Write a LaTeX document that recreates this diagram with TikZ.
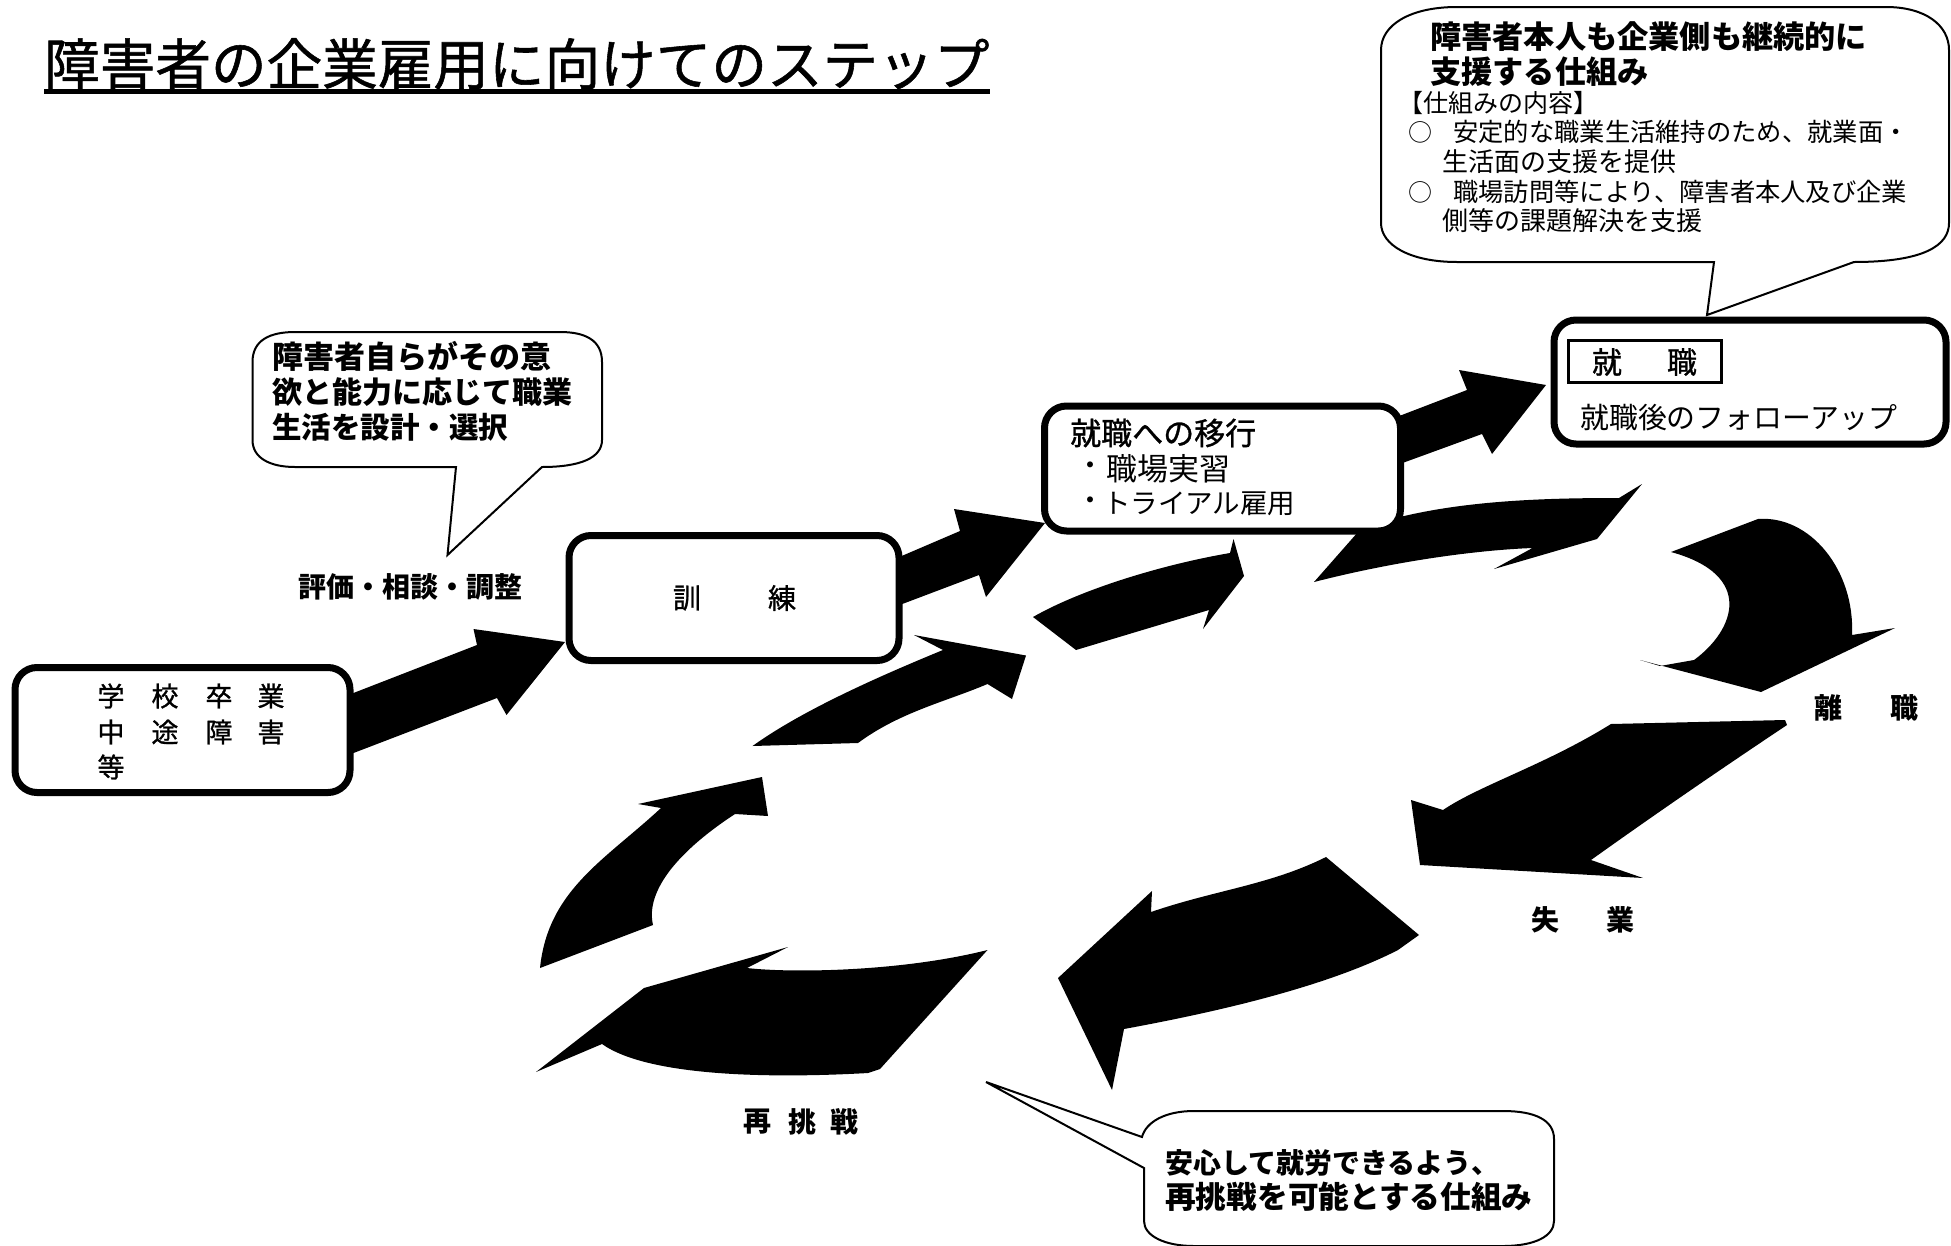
\documentclass[tikz,border=0pt]{standalone}
\usepackage{fontspec}
\setmainfont{Noto Sans CJK JP}
\newfontfamily\medfont[FakeBold=1]{Noto Sans CJK JP}
\newcommand{\fs}[1]{\fontsize{#1pt}{#1pt}\selectfont}
\tikzset{
  x=1pt,y=-1pt,
  stepbox/.style={draw=black,fill=white,line width=7pt,rounded corners=22pt,rectangle,inner sep=0pt},
  labelbox/.style={draw=black,fill=white,line width=3pt,rectangle,inner sep=0pt},
  blockarrow/.style={fill=black,draw=none},
  callout/.style={draw=black,fill=white,line width=2pt,line join=miter},
  tl/.style={inner sep=0pt,anchor=west,text=black},
  tc/.style={inner sep=0pt,anchor=center,text=black},
}
\begin{document}
\begin{tikzpicture}
\useasboundingbox (0,0) rectangle (1951,1245);
\fill[white] (0,0) rectangle (1951,1245);

% title
\node[tl,font=\fs{55.6}\medfont] (title) at (44,64) {障害者の企業雇用に向けてのステップ};
\coordinate (ulL) at (44,91); \coordinate (ulR) at (990,91);
\draw[line width=5pt] (ulL) -- (ulR);

% block arrows
\fill[blockarrow] (347,695.5)--(477,645)--(473.5,629)--(565,642)--(506.5,715)--(497,698)--(347,755.5)--cycle;
\fill[blockarrow] (897,558)--(960,531)--(954,509)--(1045,523)--(986,597)--(979,575)--(897,606)--cycle;
\fill[blockarrow] (1394,418)--(1467,390)--(1459,370)--(1546,385)--(1492,454)--(1482,434)--(1397,465)--cycle;
\fill[blockarrow] (752.5,746) .. controls (800,712) and (870,680) .. (943,650) -- (914,635) -- (1026,655.5) -- (1012,699) -- (987.5,684) .. controls (945,702) and (900,712) .. (858,743) -- cycle;
\fill[blockarrow] (1033,617) .. controls (1080,590) and (1160,565) .. (1230,553) -- (1233.5,539) -- (1244,576) -- (1203,629) -- (1209,610) -- (1076,650) -- cycle;
\fill[blockarrow] (1314,582) -- (1358,532) -- (1400,517) .. controls (1470,500) and (1550,498) .. (1619,498) -- (1642,484) -- (1597,539) -- (1494,569) -- (1532.5,548) .. controls (1480,550) and (1400,560) .. (1314,582) -- cycle;
\fill[blockarrow] (1671,552) -- (1758,519) .. controls (1810,515) and (1855,570) .. (1852,635) -- (1895,628) -- (1761,692) -- (1640,660) -- (1660,666) -- (1694,660) .. controls (1735,630) and (1755,575) .. (1671,552) -- cycle;
\fill[blockarrow] (1611,724) -- (1785,720) -- (1787,725) .. controls (1727,765) and (1661,810) .. (1591,860) -- (1643,878) -- (1420,865) -- (1411,800) -- (1443,810) .. controls (1480,785) and (1545,765) .. (1611,724) -- cycle;
\fill[blockarrow] (1326,857) -- (1419,935) -- (1398,950) .. controls (1320,990) and (1200,1015) .. (1124,1029) -- (1112,1090) -- (1058,978) -- (1152,891) -- (1151,912) .. controls (1215,890) and (1270,885) .. (1326,857) -- cycle;
\fill[blockarrow] (987.5,950) -- (880,1069) -- (868,1073) .. controls (780,1078) and (650,1078) .. (602,1044) -- (536,1072) -- (644,988) -- (788,947) -- (747,968) .. controls (790,973) and (900,972) .. (987.5,950) -- cycle;
\fill[blockarrow] (540,968) .. controls (548,890) and (605,860) .. (661,808) -- (638,804) -- (762,777) -- (768,816) -- (735,814) .. controls (680,850) and (645,890) .. (653,925) -- cycle;

% callouts
\draw[callout] (1457,7) -- (1886,7) .. controls (1925,7) and (1949,25) .. (1949,50) -- (1949,223) .. controls (1949,245) and (1925,262) .. (1854,262) -- (1707,315) -- (1714,262) -- (1457,262) .. controls (1410,262) and (1381,245) .. (1381,223) -- (1381,50) .. controls (1381,25) and (1410,7) .. (1457,7) -- cycle;
\draw[callout] (295,332) -- (560,332) .. controls (585,332) and (602,340) .. (602,362) -- (602,440) .. controls (602,458) and (580,467) .. (542,467) -- (447.5,555) -- (456,467) -- (295,467) .. controls (270,467) and (252.5,458) .. (252.5,440) -- (252.5,362) .. controls (252.5,340) and (270,332) .. (295,332) -- cycle;
\draw[callout] (1194,1111) -- (1503,1111) .. controls (1535,1111) and (1554,1120) .. (1554,1139) -- (1554,1221) .. controls (1554,1236) and (1535,1246) .. (1503,1246) -- (1194,1246) .. controls (1165,1246) and (1144,1236) .. (1144,1221) -- (1144,1168) -- (986,1082) -- (1142,1137) .. controls (1146,1122) and (1165,1111) .. (1194,1111) -- cycle;

% boxes
\node[stepbox,minimum width=335pt,minimum height=125pt] (b1) at (182.5,730) {};
\node[stepbox,minimum width=330pt,minimum height=125pt] (b2) at (734,598) {};
\node[stepbox,minimum width=356pt,minimum height=125pt] (b3) at (1222.5,468.5) {};
\node[stepbox,minimum width=392pt,minimum height=124pt] (b4) at (1750,382) {};
\node[labelbox,minimum width=153pt,minimum height=42pt] (b4l) at (1645,361.5) {};

% box 1 text
\node[tc,font=\fs{27}\medfont] (a1) at (111,696) {学};
\node[tc,font=\fs{27}\medfont] (a2) at (165,696) {校};
\node[tc,font=\fs{27}\medfont] (a3) at (219,696) {卒};
\node[tc,font=\fs{27}\medfont] (a4) at (271,696) {業};
\node[tc,font=\fs{27}\medfont] (a5) at (111,732) {中};
\node[tc,font=\fs{27}\medfont] (a6) at (165,732) {途};
\node[tc,font=\fs{27}\medfont] (a7) at (219,732) {障};
\node[tc,font=\fs{27}\medfont] (a8) at (271,732) {害};
\node[tc,font=\fs{27}\medfont] (a9) at (111,767) {等};
% box 2 text
\node[tc,font=\fs{28}\medfont] (t1) at (687,598) {訓};
\node[tc,font=\fs{28}\medfont] (t2) at (782,598) {練};
% box 3 text
\node[tl,font=\fs{31}\medfont] (c1) at (1070,433) {就職への移行};
\node[tc,font=\fs{28}] (c2) at (1090,469) {・};
\node[tl,font=\fs{31}] (c3) at (1106,469) {職場実習};
\node[tc,font=\fs{28}] (c4) at (1090,504) {・};
\node[tl,font=\fs{27.5}] (c5) at (1103,504) {トライアル雇用};
% box 4 text
\node[tc,font=\fs{30}\medfont] (d1) at (1607,362) {就};
\node[tc,font=\fs{30}\medfont] (d2) at (1682,362) {職};
\node[tl,font=\fs{28.9}] (d3) at (1580,418) {就職後のフォローアップ};

% top callout text
\node[tl,font=\fs{31.2}\bfseries] (e1) at (1430,37) {障害者本人も企業側も継続的に};
\node[tl,font=\fs{31.2}\bfseries] (e2) at (1430,72) {支援する仕組み};
\node[tl,font=\fs{25}] (e3) at (1398,103) {【仕組みの内容】};
\node[tl,font=\fs{24}] (e4) at (1408,132) {○};
\node[tl,font=\fs{25.3}] (e5) at (1453,132) {安定的な職業生活維持のため、就業面・};
\node[tl,font=\fs{26}] (e6) at (1442,162) {生活面の支援を提供};
\node[tl,font=\fs{24}] (e7) at (1408,192) {○};
\node[tl,font=\fs{25.3}] (e8) at (1453,192) {職場訪問等により、障害者本人及び企業};
\node[tl,font=\fs{26}] (e9) at (1442,221) {側等の課題解決を支援};

% left callout text
\node[tl,font=\fs{31}\bfseries] (f1) at (272,356) {障害者自らがその意};
\node[tl,font=\fs{30}\bfseries] (f2) at (272,392) {欲と能力に応じて職業};
\node[tl,font=\fs{29.5}\bfseries] (f3) at (272,427) {生活を設計・選択};
\node[tl,font=\fs{28}\bfseries] (f4) at (298,587) {評価・相談・調整};

% free labels
\node[tc,font=\fs{28}\bfseries] (g1) at (1828,708) {離};
\node[tc,font=\fs{28}\bfseries] (g2) at (1904,708) {職};
\node[tc,font=\fs{28}\bfseries] (g3) at (1545,920) {失};
\node[tc,font=\fs{28}\bfseries] (g4) at (1620,920) {業};
\node[tc,font=\fs{28}\bfseries] (g5) at (757,1122) {再};
\node[tc,font=\fs{28}\bfseries] (g6) at (802,1122) {挑};
\node[tc,font=\fs{28}\bfseries] (g7) at (844,1122) {戦};

% bottom callout text
\node[tl,font=\fs{28}\bfseries] (h1) at (1165,1163) {安心して就労できるよう、};
\node[tl,font=\fs{30.7}\bfseries] (h2) at (1165,1197) {再挑戦を可能とする仕組み};
\end{tikzpicture}
\end{document}
